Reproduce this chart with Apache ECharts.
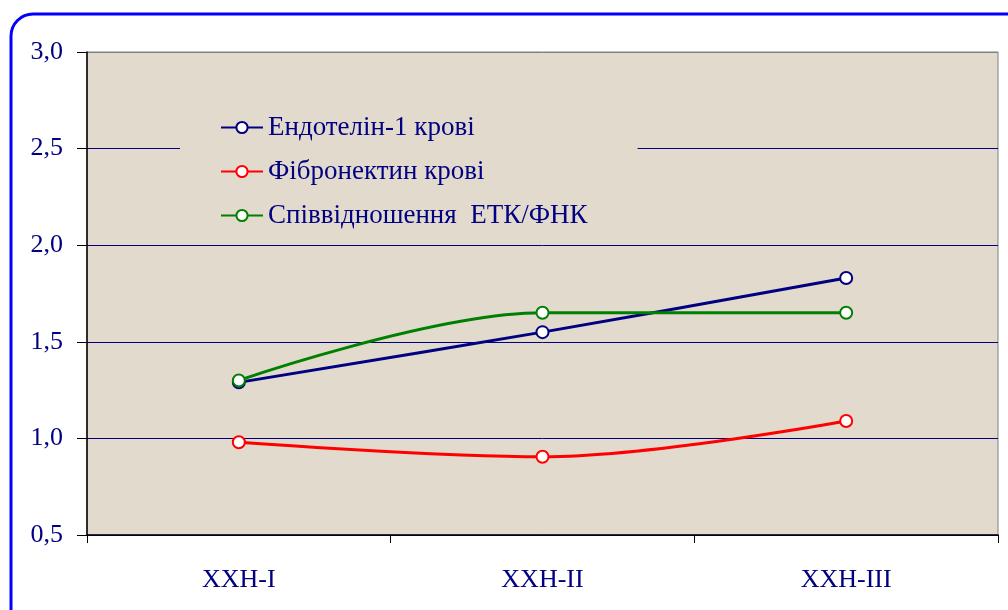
<!DOCTYPE html>
<html>
<head>
<meta charset="utf-8">
<script src="https://cdn.jsdelivr.net/npm/echarts@6/dist/echarts.min.js"></script>
<style>
  html, body { margin: 0; padding: 0; background: #fff; }
  #chart { width: 1008px; height: 610px; }
</style>
</head>
<body>
<div id="chart"></div>
<script>
// категорії та значення
const categories = ['ХХН-I', 'ХХН-II', 'ХХН-III']
const seriesNames = ['Ендотелін-1 крові', 'Фібронектин крові', 'Співвідношення  ЕТК/ФНК']
const endothelin = [1.29, 1.55, 1.83]
const fibronectin = [0.98, 0.905, 1.09]
const ratio = [1.30, 1.65, 1.65]

const NAVY = '#000080'
const PLOT_BG = '#e2dacd'
const FONT = '"Liberation Serif", "Times New Roman", serif'

const chart = echarts.init(document.getElementById('chart'))

function lineSeries(name, data, color){
  return {
    name: name,
    type: 'line',
    data: data,
    smooth: 0.35,
    symbol: 'circle',
    symbolSize: 12,
    lineStyle: { color: color, width: 3 },
    itemStyle: { color: '#ffffff', borderColor: color, borderWidth: 2 },
    emphasis: { disabled: true },
    z: 3
  }
}

const option = {
  animation: false,
  color: [NAVY, '#ff0000', '#008000'],
  textStyle: { fontFamily: FONT },
  graphic: [{
    type: 'rect',
    shape: { x: 11, y: 14, width: 1020, height: 620, r: 22 },
    style: { fill: 'none', stroke: '#0000ff', lineWidth: 3 },
    silent: true,
    z: 0
  }],
  grid: {
    left: 87,
    right: 10,
    top: 52,
    bottom: 75,
    show: true,
    backgroundColor: PLOT_BG,
    borderColor: '#808080',
    borderWidth: 1
  },
  legend: {
    left: 180,
    top: 104,
    orient: 'vertical',
    padding: [10, 50, 10, 40],
    itemGap: 17,
    itemWidth: 42,
    itemHeight: 14,
    backgroundColor: PLOT_BG,
    textStyle: { color: NAVY, fontSize: 27, fontFamily: FONT },
    data: seriesNames
  },
  xAxis: {
    type: 'category',
    data: categories,
    boundaryGap: true,
    axisLine: { lineStyle: { color: '#000', width: 1.5 } },
    axisTick: { show: true, length: 8, lineStyle: { color: '#000' } },
    axisLabel: { color: NAVY, fontSize: 26, fontFamily: FONT, margin: 32 },
    splitLine: { show: false }
  },
  yAxis: {
    type: 'value',
    min: 0.5,
    max: 3.0,
    interval: 0.5,
    axisLine: { show: true, lineStyle: { color: '#000', width: 1.5 } },
    axisTick: { show: true, length: 10, lineStyle: { color: '#000' } },
    axisLabel: {
      color: NAVY,
      fontSize: 26,
      fontFamily: FONT,
      margin: 24,
      formatter: v => v.toFixed(1).replace('.', ',')
    },
    splitLine: {
      show: true,
      lineStyle: { color: [NAVY, NAVY, NAVY, NAVY, NAVY, '#808080'], width: 1 }
    }
  },
  series: [
    lineSeries(seriesNames[0], endothelin, NAVY),
    lineSeries(seriesNames[1], fibronectin, '#ff0000'),
    lineSeries(seriesNames[2], ratio, '#008000')
  ]
}

chart.setOption(option)
</script>
</body>
</html>
